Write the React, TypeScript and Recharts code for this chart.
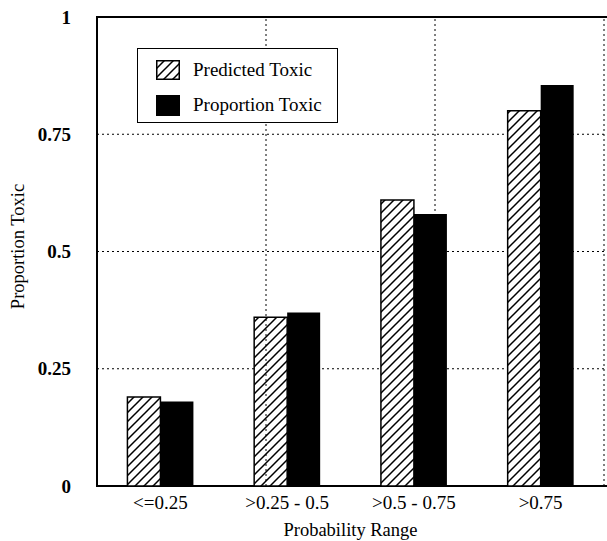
import React from "react";

// Recharts
import {
	BarChart,
	Bar,
	XAxis,
	YAxis,
	CartesianGrid,
	ReferenceLine,
	ReferenceArea,
} from "recharts";

const categories = ["<=0.25", ">0.25 - 0.5", ">0.5 - 0.75", ">0.75"];
const predictedToxic = [0.19, 0.36, 0.61, 0.8];
const proportionToxic = [0.18, 0.37, 0.58, 0.855];
const yTicks = [0, 0.25, 0.5, 0.75, 1];
const boundaries = [1, 2, 3];

const data = categories.map((name, i) => ({
	name,
	predicted: predictedToxic[i],
	proportion: proportionToxic[i],
}));

const FONT = '"Liberation Serif", "Times New Roman", serif';

const HatchDefs = ({ id }: { id: string }) => (
	<defs>
		<pattern id={id} patternUnits="userSpaceOnUse" width={9} height={9}>
			<rect width={9} height={9} fill="#fff" />
			<path
				d="M-1,1 l2,-2 M0,9 l9,-9 M8,10 l2,-2"
				stroke="#000"
				strokeWidth={1.5}
			/>
		</pattern>
	</defs>
);

const LegendBox = () => (
	<div
		style={{
			position: "absolute",
			left: 137,
			top: 48,
			width: 201,
			height: 75,
			border: "1.5px solid #000",
			background: "#fff",
			fontFamily: FONT,
			fontSize: 19,
			color: "#000",
			boxSizing: "border-box",
		}}
	>
		<div style={{ position: "absolute", left: 18, top: 10, height: 22, display: "flex", alignItems: "center" }}>
			<svg width={24} height={20}>
				<HatchDefs id="hatchLegend" />
				<rect x={0.75} y={0.75} width={22.5} height={18.5} fill="url(#hatchLegend)" stroke="#000" strokeWidth={1.5} />
			</svg>
			<span style={{ marginLeft: 13 }}>Predicted Toxic</span>
		</div>
		<div style={{ position: "absolute", left: 18, top: 45, height: 22, display: "flex", alignItems: "center" }}>
			<svg width={24} height={21}>
				<rect x={0} y={0} width={24} height={21} fill="#000" />
			</svg>
			<span style={{ marginLeft: 13 }}>Proportion Toxic</span>
		</div>
	</div>
);

export default function App() {
	return (
		<div style={{ position: "absolute", left: 0, top: 0, width: 607, height: 541, background: "#fff" }}>
			<BarChart
				width={607}
				height={541}
				data={data}
				margin={{ top: 17, right: 3, bottom: 0, left: 7 }}
				barGap={0}
				barCategoryGap="24%"
			>
				<HatchDefs id="hatchBar" />
				<CartesianGrid
					vertical={false}
					stroke="#000"
					strokeDasharray="2 3"
				/>
				<XAxis
					dataKey="name"
					height={55}
					axisLine={false}
					tickLine={false}
					tickMargin={4}
					tick={{ fill: "#000", fontSize: 19, fontFamily: FONT }}
					label={{
						value: "Probability Range",
						position: "insideBottom",
						offset: 5,
						fill: "#000",
						fontSize: 18.5,
						fontFamily: FONT,
					}}
				/>
				<XAxis xAxisId="grid" type="number" domain={[0, 4]} hide />
				<YAxis
					width={90}
					domain={[0, 1]}
					ticks={yTicks}
					axisLine={false}
					tickLine={false}
					tickSize={6}
					tickMargin={20}
					tick={{ fill: "#000", fontSize: 19, fontFamily: FONT, fontWeight: "bold" }}
					label={{
						content: ({ viewBox }: any) => {
							const x = viewBox.x + 11;
							const y = viewBox.y + viewBox.height / 2 - 5;
							return (
								<text
									x={x}
									y={y}
									transform={`rotate(-90, ${x}, ${y})`}
									textAnchor="middle"
									dominantBaseline="central"
									fill="#000"
									fontSize={18.5}
									fontFamily={FONT}
								>
									Proportion Toxic
								</text>
							);
						},
					}}
				/>
				{boundaries.map((b) => (
					<ReferenceLine
						key={b}
						xAxisId="grid"
						x={b}
						stroke="#000"
						strokeDasharray="2 3"
					/>
				))}
				<Bar
					dataKey="predicted"
					fill="url(#hatchBar)"
					stroke="#000"
					strokeWidth={1.5}
					isAnimationActive={false}
				/>
				<Bar dataKey="proportion" fill="#000" isAnimationActive={false} />
				<ReferenceArea
					xAxisId="grid"
					x1={0}
					x2={4}
					y1={0}
					y2={1}
					fill="none"
					stroke="#000"
					strokeWidth={2}
					ifOverflow="visible"
				/>
			</BarChart>
			<LegendBox />
		</div>
	);
}
